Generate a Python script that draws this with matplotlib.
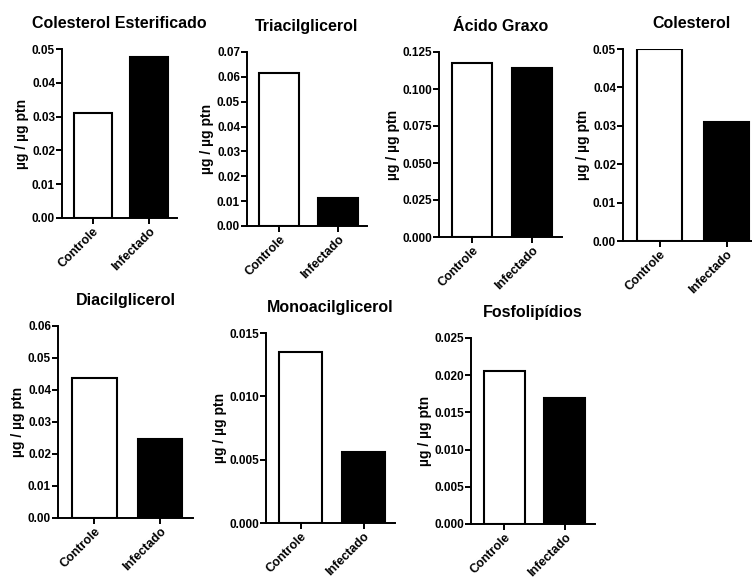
import matplotlib
matplotlib.use('Agg')
import matplotlib.pyplot as plt
import numpy as np

plt.rcParams['font.family'] = ['Liberation Sans', 'DejaVu Sans']
plt.rcParams['font.weight'] = 'bold'

groups = ['Controle', 'Infectado']
titles = ['Colesterol Esterificado', 'Triacilglicerol', 'Ácido Graxo', 'Colesterol',
          'Diacilglicerol', 'Monoacilglicerol', 'Fosfolipídios']
controle = [0.0311, 0.0616, 0.1176, 0.0500, 0.0438, 0.0135, 0.0206]
infectado = [0.0476, 0.0113, 0.1142, 0.0310, 0.0247, 0.0056, 0.0169]
ymax = [0.05, 0.07, 0.125, 0.05, 0.06, 0.015, 0.025]
ystep = [0.01, 0.01, 0.025, 0.01, 0.01, 0.005, 0.005]
ydec = [2, 2, 3, 2, 2, 3, 3]

# axes boxes in pixels: left, top, right, bottom
boxes = [(62, 49, 177, 218), (247, 52, 367, 226), (439, 52, 562, 237),
         (623, 49, 760, 241), (58, 326, 193, 518), (266, 333, 395, 523),
         (471, 338, 595, 524)]

W, H = 752, 584
fig = plt.figure(figsize=(W / 100, H / 100), dpi=100)

for i in range(len(titles)):
    l, t, r, b = boxes[i]
    ax = fig.add_axes([l / W, 1 - b / H, (r - l) / W, (b - t) / H])
    ax.bar([0, 1], [controle[i], infectado[i]], width=0.68,
           color=['white', 'black'], edgecolor='black', linewidth=1.5)
    ax.set_xlim(-0.55, 1.5)
    ax.set_ylim(0, ymax[i])
    ticks = np.arange(0, ymax[i] + ystep[i] / 2, ystep[i])
    ax.set_yticks(ticks)
    ax.set_yticklabels(['%.*f' % (ydec[i], v) for v in ticks], fontsize=8.5, fontweight='bold')
    ax.set_xticks([0, 1])
    ax.set_xticklabels(groups, rotation=45, ha='right', rotation_mode='anchor',
                       fontsize=9, fontweight='bold')
    ax.spines['top'].set_visible(False)
    ax.spines['right'].set_visible(False)
    ax.spines['left'].set_linewidth(1.4)
    ax.spines['bottom'].set_linewidth(1.4)
    ax.tick_params(axis='both', width=1.4, length=4, pad=1)
    ax.set_ylabel('µg / µg ptn', fontsize=10, fontweight='bold', labelpad=2)
    ax.set_title(titles[i], fontsize=11.5, fontweight='bold', pad=15)

fig.savefig('out.png', dpi=100)
